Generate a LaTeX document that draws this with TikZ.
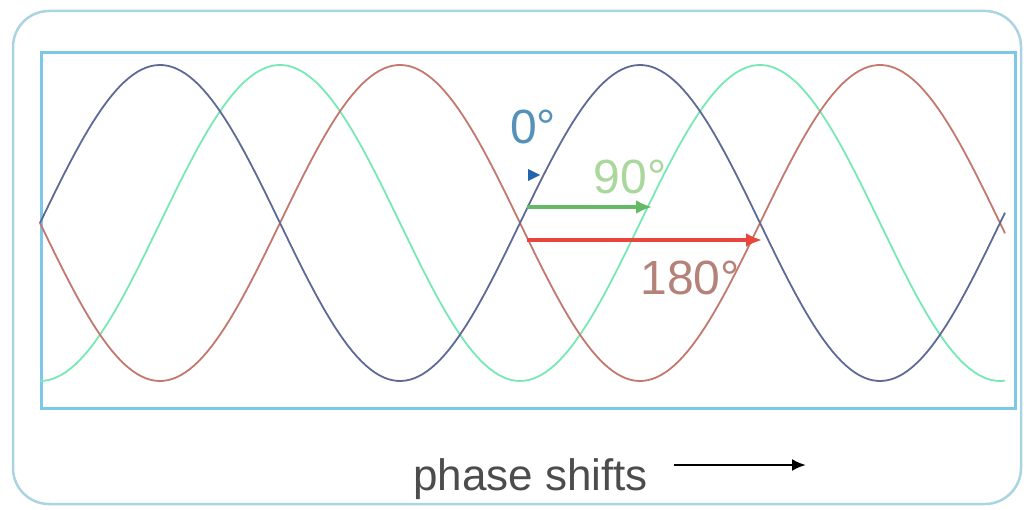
\documentclass[tikz,border=0pt]{standalone}
\usepackage{fontspec}
\setmainfont{Liberation Sans}
\usetikzlibrary{arrows.meta}
\definecolor{outerframe}{RGB}{170,212,225}
\definecolor{innerframe}{RGB}{125,200,232}
\definecolor{bluewave}{RGB}{95,105,150}
\definecolor{greenwave}{RGB}{120,232,180}
\definecolor{redwave}{RGB}{195,120,110}
\definecolor{zerocol}{RGB}{85,145,185}
\definecolor{zerotipcol}{RGB}{35,100,175}
\definecolor{ninetycol}{RGB}{170,215,155}
\definecolor{ninetyarrow}{RGB}{100,185,100}
\definecolor{halfcol}{RGB}{180,130,120}
\definecolor{halfarrow}{RGB}{232,70,60}
\begin{document}
\begin{tikzpicture}[
  x=1pt, y=-1pt,
  wave/.style={line width=1.8pt},
  shiftarrow/.style={line width=4pt, -{Latex[length=16pt,width=14pt]}},
  degree/.style={inner sep=0pt, font=\fontsize{48}{48}\selectfont},
  caption/.style={inner sep=0pt, font=\fontsize{44}{44}\selectfont, text=black!70}
  ]
\useasboundingbox (0,0) rectangle (1032,510);

% frames
\draw[outerframe, line width=2.5pt, rounded corners=36pt] (13,11) rectangle (1021,504);
\draw[innerframe, line width=3pt] (41,53) rectangle (1015,408);

% the three waves
\draw[wave, greenwave] plot[domain=40:1005, samples=220, variable=\x] (\x, {223+158*cos(0.75*(\x-40))});
\draw[wave, redwave] plot[domain=40:1005, samples=220, variable=\x] (\x, {223+158*sin(0.75*(\x-40))});
\draw[wave, bluewave] plot[domain=40:1005, samples=220, variable=\x] (\x, {223-158*sin(0.75*(\x-40))});

% phase markers
\coordinate (zerotip) at (534,175);
\fill[zerotipcol] (zerotip) ++(-6,-6) -- ++(12,6) -- ++(-12,6) -- cycle;
\node[degree, text=zerocol] (zero) at (533,127) {0°};

\coordinate (ninetystart) at (527,207);
\coordinate (ninetyend) at (652,207);
\draw[shiftarrow, ninetyarrow] (ninetystart) -- (ninetyend);
\node[degree, text=ninetycol] (ninety) at (630,177) {90°};

\coordinate (halfstart) at (527,240);
\coordinate (halfend) at (762,240);
\draw[shiftarrow, halfarrow] (halfstart) -- (halfend);
\node[degree, text=halfcol] (half) at (690,278) {180°};

% caption
\node[caption, anchor=base west] (shifts) at (413,490) {phase shifts};
\coordinate (shiftsend) at (806,465);
\draw[line width=2.6pt, -{Latex[length=14pt,width=12pt]}] (shifts.east |- shiftsend) ++(26,0) -- (shiftsend);
\end{tikzpicture}
\end{document}
